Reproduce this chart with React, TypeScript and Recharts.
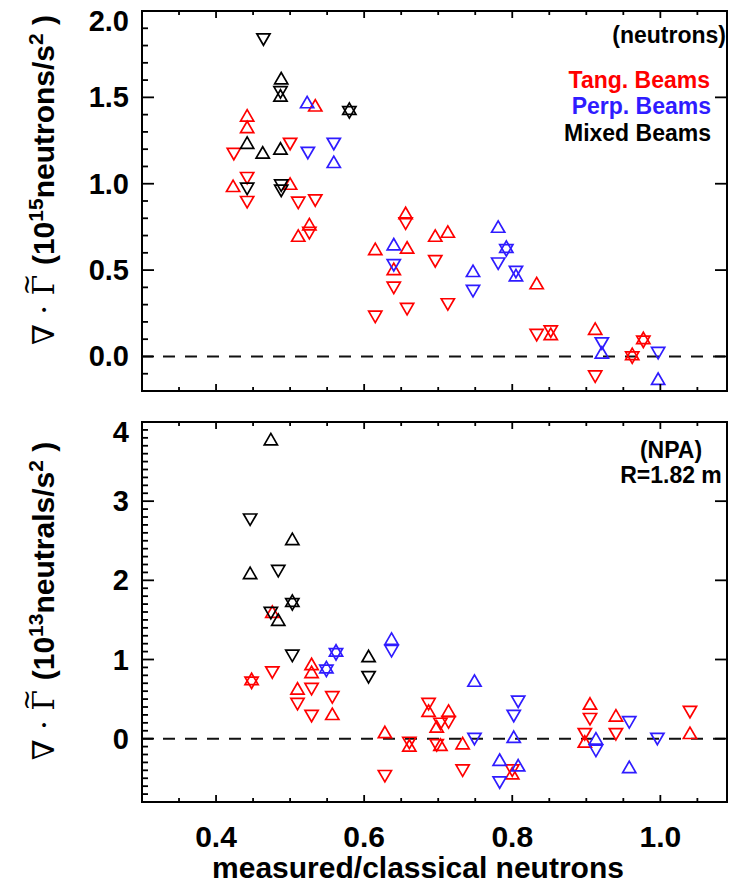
import React from 'react';
import { ScatterChart, Scatter, XAxis, YAxis, ReferenceLine, ReferenceArea } from 'recharts';

// top panel: neutron source rate (10^15 neutrons/s^2), [measured/classical, value]
const neutronTangUp = [[0.442, 1.385], [0.442, 1.318], [0.423, 0.977], [0.5, 0.99], [0.534, 1.443], [0.526, 0.755], [0.511, 0.689], [0.656, 0.82], [0.615, 0.612], [0.64, 0.496], [0.658, 0.62], [0.696, 0.689], [0.713, 0.712], [0.833, 0.414], [0.852, 0.12], [0.912, 0.15], [0.962, 0.004], [0.977, 0.096]];
const neutronTangDown = [[0.424, 1.183], [0.5, 1.241], [0.442, 1.043], [0.442, 0.904], [0.511, 0.9], [0.534, 0.914], [0.526, 0.725], [0.656, 0.78], [0.64, 0.408], [0.658, 0.285], [0.615, 0.24], [0.696, 0.562], [0.713, 0.312], [0.833, 0.135], [0.852, 0.155], [0.912, -0.106], [0.962, 0.004], [0.977, 0.096]];
const neutronPerpUp = [[0.523, 1.462], [0.559, 1.116], [0.64, 0.639], [0.747, 0.485], [0.781, 0.741], [0.792, 0.625], [0.805, 0.46], [0.921, 0.012], [0.997, -0.14]];
const neutronPerpDown = [[0.524, 1.189], [0.559, 1.241], [0.64, 0.539], [0.747, 0.389], [0.781, 0.548], [0.792, 0.625], [0.805, 0.5], [0.921, 0.086], [0.997, 0.03]];
const neutronMixedUp = [[0.488, 1.6], [0.487, 1.5], [0.58, 1.424], [0.442, 1.227], [0.463, 1.17], [0.487, 1.193]];
const neutronMixedDown = [[0.464, 1.846], [0.487, 1.54], [0.58, 1.424], [0.442, 0.981], [0.488, 1.0], [0.488, 0.97]];

// bottom panel: NPA at R=1.82 m (10^13 neutrals/s^2)
const npaTangUp = [[0.476, 1.58], [0.448, 0.73], [0.529, 0.92], [0.529, 0.82], [0.51, 0.61], [0.557, 0.29], [0.628, 0.06], [0.661, -0.11], [0.687, 0.33], [0.698, 0.13], [0.703, -0.1], [0.714, 0.33], [0.733, -0.08], [0.8, -0.46], [0.905, 0.42], [0.898, -0.06], [0.94, 0.27], [1.04, 0.05]];
const npaTangDown = [[0.476, 0.86], [0.448, 0.73], [0.529, 0.65], [0.529, 0.31], [0.51, 0.46], [0.557, 0.545], [0.628, -0.45], [0.661, -0.03], [0.687, 0.46], [0.698, -0.06], [0.703, 0.21], [0.714, 0.23], [0.733, -0.38], [0.8, -0.38], [0.905, 0.27], [0.898, 0.08], [0.94, 0.08], [1.04, 0.36]];
const npaPerpUp = [[0.562, 1.09], [0.549, 0.88], [0.637, 1.24], [0.749, 0.71], [0.802, 0.0], [0.783, -0.29], [0.808, -0.36], [0.913, -0.02], [0.958, -0.38]];
const npaPerpDown = [[0.562, 1.09], [0.549, 0.88], [0.637, 1.13], [0.749, 0.02], [0.808, 0.49], [0.802, 0.31], [0.783, -0.53], [0.913, -0.13], [0.958, 0.23], [0.996, 0.02]];
const npaMixedUp = [[0.474, 3.76], [0.503, 2.5], [0.446, 2.07], [0.503, 1.72], [0.484, 1.48], [0.606, 1.02]];
const npaMixedDown = [[0.446, 2.79], [0.484, 2.14], [0.503, 1.72], [0.474, 1.61], [0.503, 1.07], [0.606, 0.8]];

const X_DOMAIN = [0.3, 1.09];
const X_MAJOR = [0.4, 0.6, 0.8, 1.0];
const X_LABELS = ['0.4', '0.6', '0.8', '1.0'];
const X_TICKS = Array.from({ length: 15 }, (_, i) => 0.35 + i * 0.05);

const TOP_DOMAIN = [-0.2, 2.0];
const TOP_MAJOR = [0, 0.5, 1.0, 1.5, 2.0];
const TOP_LABELS = ['0.0', '0.5', '1.0', '1.5', '2.0'];
const TOP_TICKS = Array.from({ length: 22 }, (_, i) => -0.1 + i * 0.1);

const BOT_DOMAIN = [-0.8, 4.0];
const BOT_MAJOR = [0, 1, 2, 3, 4];
const BOT_LABELS = ['0', '1', '2', '3', '4'];
const BOT_TICKS = Array.from({ length: 48 }, (_, i) => -0.7 + i * 0.1);

const RED = '#ff0000';
const BLUE = '#2f1cff';
const BLACK = '#000000';
const FONT = "'Liberation Sans', Arial, Helvetica, sans-serif";

const W = 585;
const H = 380;

const toPts = (arr: number[][]) => arr.map(([x, y]) => ({ x, y }));
const majorIndex = (list: number[], v: number) => list.findIndex((m) => Math.abs(m - v) < 1e-6);

const Tri = ({ cx, cy, color, up }: any) => {
    const s = 6.6;
    const h = 11.4;
    const pts = up
        ? `${cx},${cy - (2 * h) / 3} ${cx + s},${cy + h / 3} ${cx - s},${cy + h / 3}`
        : `${cx},${cy + (2 * h) / 3} ${cx + s},${cy - h / 3} ${cx - s},${cy - h / 3}`;
    return <polygon points={pts} fill="none" stroke={color} strokeWidth={1.7} />;
};

const XTick = ({ x, y, payload, showLabel }: any) => {
    const i = majorIndex(X_MAJOR, payload.value);
    const len = i >= 0 ? 7 : 4;
    return (
        <g>
            <line x1={x} y1={y} x2={x} y2={y - len} stroke="#000" strokeWidth={1.8} />
            <line x1={x} y1={y - H} x2={x} y2={y - H + len} stroke="#000" strokeWidth={1.8} />
            {showLabel && i >= 0 && (
                <text x={x} y={y + 45} textAnchor="middle" fontSize={30} fontWeight="bold" fontFamily={FONT} fill="#000">
                    {X_LABELS[i]}
                </text>
            )}
        </g>
    );
};

const YTick = ({ x, y, payload, majors, labels }: any) => {
    const i = majorIndex(majors, payload.value);
    const len = i >= 0 ? 12 : 6;
    const shift = i === majors.length - 1 ? 10 : 0;
    return (
        <g>
            <line x1={x} y1={y} x2={x + len} y2={y} stroke="#000" strokeWidth={1.8} />
            {i >= 0 && <line x1={x + W} y1={y} x2={x + W - 12} y2={y} stroke="#000" strokeWidth={1.8} />}
            {i >= 0 && (
                <text x={x - 13} y={y + 10 + shift} textAnchor="end" fontSize={29} fontWeight="bold" fontFamily={FONT} fill="#000">
                    {labels[i]}
                </text>
            )}
        </g>
    );
};

const series = (up: number[][], down: number[][], color: string, key: string) => [
    <Scatter key={key + 'u'} data={toPts(up)} isAnimationActive={false}
        shape={(p: any) => <Tri cx={p.cx} cy={p.cy} color={color} up />} />,
    <Scatter key={key + 'd'} data={toPts(down)} isAnimationActive={false}
        shape={(p: any) => <Tri cx={p.cx} cy={p.cy} color={color} up={false} />} />,
];

const YTitle = ({ cy, exp, unit }: { cy: number; exp: string; unit: string }) => (
    <div style={{
        position: 'absolute', left: 42, top: cy, transform: 'translate(-50%,-50%) rotate(-90deg)',
        whiteSpace: 'nowrap', fontFamily: FONT, fontWeight: 'bold', fontSize: 30, lineHeight: 1,
    }}>
        <span style={{ fontFamily: "'DejaVu Serif', serif", fontWeight: 'normal' }}>
            ∇ · <span style={{ position: 'relative', display: 'inline-block' }}>
                Γ
                <span style={{ position: 'absolute', left: 0, right: 0, top: '-0.62em', textAlign: 'center', fontSize: 26 }}>~</span>
            </span>{' '}
        </span>
        (10<sup style={{ fontSize: 21 }}>{exp}</sup>{unit}/s<sup style={{ fontSize: 21 }}>2</sup> )
    </div>
);

const note = (text: string, style: React.CSSProperties, color = '#000') => (
    <div style={{
        position: 'absolute', fontFamily: FONT, fontWeight: 'bold', fontSize: 23, lineHeight: '23px',
        whiteSpace: 'nowrap', color, ...style,
    }}>{text}</div>
);

const App: React.FC = () => {
    return (
        <div style={{ position: 'absolute', left: 0, top: 0, width: 739, height: 885, background: '#fff' }}>
            <div style={{ position: 'absolute', left: 0, top: 0 }}>
                <ScatterChart width={739} height={410} margin={{ top: 11, right: 12, bottom: 0, left: 0 }}>
                    <XAxis type="number" dataKey="x" domain={X_DOMAIN} ticks={X_TICKS} interval={0}
                        axisLine={false} tickLine={false} tickSize={0} tickMargin={0} height={19}
                        tick={<XTick showLabel={false} />} />
                    <YAxis type="number" dataKey="y" domain={TOP_DOMAIN} ticks={TOP_TICKS} interval={0}
                        axisLine={false} tickLine={false} tickSize={0} tickMargin={0} width={142}
                        tick={<YTick majors={TOP_MAJOR} labels={TOP_LABELS} />} />
                    <ReferenceArea x1={X_DOMAIN[0]} x2={X_DOMAIN[1]} y1={TOP_DOMAIN[0]} y2={TOP_DOMAIN[1]}
                        fill="none" stroke="#000" strokeWidth={2} />
                    <ReferenceLine y={0} stroke="#111" strokeWidth={2} strokeDasharray="12 10" strokeDashoffset={1} />
                    {series(neutronTangUp, neutronTangDown, RED, 'nt')}
                    {series(neutronPerpUp, neutronPerpDown, BLUE, 'np')}
                    {series(neutronMixedUp, neutronMixedDown, BLACK, 'nm')}
                </ScatterChart>
            </div>
            <div style={{ position: 'absolute', left: 0, top: 410 }}>
                <ScatterChart width={739} height={475} margin={{ top: 12, right: 12, bottom: 0, left: 0 }}>
                    <XAxis type="number" dataKey="x" domain={X_DOMAIN} ticks={X_TICKS} interval={0}
                        axisLine={false} tickLine={false} tickSize={0} tickMargin={0} height={83}
                        tick={<XTick showLabel />} />
                    <YAxis type="number" dataKey="y" domain={BOT_DOMAIN} ticks={BOT_TICKS} interval={0}
                        axisLine={false} tickLine={false} tickSize={0} tickMargin={0} width={142}
                        tick={<YTick majors={BOT_MAJOR} labels={BOT_LABELS} />} />
                    <ReferenceArea x1={X_DOMAIN[0]} x2={X_DOMAIN[1]} y1={BOT_DOMAIN[0]} y2={BOT_DOMAIN[1]}
                        fill="none" stroke="#000" strokeWidth={2} />
                    <ReferenceLine y={0} stroke="#111" strokeWidth={2} strokeDasharray="12 10" strokeDashoffset={1} />
                    {series(npaTangUp, npaTangDown, RED, 'pt')}
                    {series(npaPerpUp, npaPerpDown, BLUE, 'pp')}
                    {series(npaMixedUp, npaMixedDown, BLACK, 'pm')}
                </ScatterChart>
            </div>

            <YTitle cy={180} exp="15" unit="neutrons" />
            <YTitle cy={601} exp="13" unit="neutrals" />

            {note('(neutrons)', { right: 13, top: 24 })}
            {note('Tang. Beams', { right: 29, top: 69 }, RED)}
            {note('Perp. Beams', { right: 28, top: 95 }, BLUE)}
            {note('Mixed Beams', { right: 28, top: 122 })}
            {note('(NPA)', { left: 671, top: 439, transform: 'translateX(-50%)' })}
            {note('R=1.82 m', { left: 671, top: 464, transform: 'translateX(-50%)' })}

            <div style={{
                position: 'absolute', left: 418, top: 853, transform: 'translateX(-50%)', whiteSpace: 'nowrap',
                fontFamily: FONT, fontWeight: 'bold', fontSize: 30, lineHeight: '30px',
            }}>measured/classical neutrons</div>
        </div>
    );
};

export default App;
